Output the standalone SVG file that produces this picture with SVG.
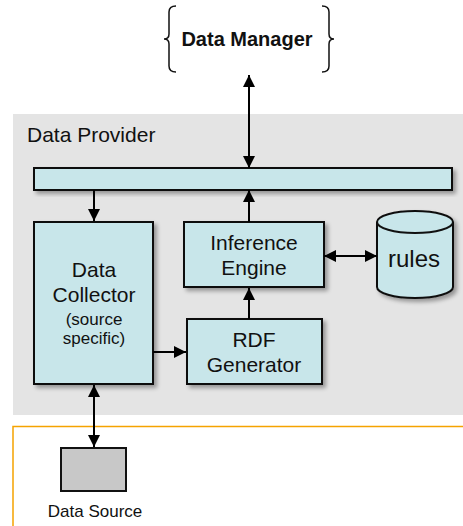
<svg xmlns="http://www.w3.org/2000/svg" width="463" height="526" viewBox="0 0 463 526">
  <style>
    .box { fill: #c8e6ea; stroke: #111; stroke-width: 2; }
    .lbl { font-family: "Liberation Sans", Arial, sans-serif; fill: #111; text-anchor: middle; }
    .wire { stroke: #000; stroke-width: 2; fill: none; }
  </style>
  <defs>
    <marker id="head" viewBox="0 0 12 12" refX="12" refY="6" markerWidth="12" markerHeight="12" markerUnits="userSpaceOnUse" orient="auto-start-reverse">
      <path d="M0,0 L12,6 L0,12 Z" fill="#000"/>
    </marker>
    <filter id="shadow" x="-20%" y="-20%" width="150%" height="150%">
      <feGaussianBlur in="SourceAlpha" stdDeviation="2"/>
      <feOffset dx="3" dy="3" result="b"/>
      <feComponentTransfer><feFuncA type="linear" slope="0.35"/></feComponentTransfer>
      <feMerge><feMergeNode/><feMergeNode in="SourceGraphic"/></feMerge>
    </filter>
  </defs>

  <rect width="463" height="526" fill="#fff"/>

  <!-- provider panel -->
  <g id="data-provider">
    <rect x="13" y="114" width="450" height="301" fill="#e4e4e4"/>
    <text x="27" y="142" font-family="Liberation Sans, Arial, sans-serif" font-size="21" fill="#111">Data Provider</text>
  </g>

  <!-- source area outline -->
  <g id="source-area">
    <path d="M13,526 V426.5 H463" fill="none" stroke="#f5a300" stroke-width="1.5"/>
  </g>

  <g id="data-manager">
    <path d="M176,6 Q169,6 169,12 V34 Q169,39 164,39 Q169,39 169,44 V66 Q169,72 176,72" fill="none" stroke="#111" stroke-width="1.5"/>
    <path d="M322,6 Q329,6 329,12 V34 Q329,39 334,39 Q329,39 329,44 V66 Q329,72 322,72" fill="none" stroke="#111" stroke-width="1.5"/>
    <text class="lbl" x="247" y="46" font-size="20" font-weight="bold">Data Manager</text>
  </g>

  <g id="bus">
    <rect class="box" x="34" y="168" width="418" height="22" filter="url(#shadow)"/>
  </g>

  <g id="data-collector">
    <rect class="box" x="34" y="222" width="119" height="162" filter="url(#shadow)"/>
    <text class="lbl" x="94" y="277" font-size="21">Data</text>
    <text class="lbl" x="94" y="302" font-size="21">Collector</text>
    <text class="lbl" x="94" y="325" font-size="17">(source</text>
    <text class="lbl" x="94" y="344" font-size="17">specific)</text>
  </g>

  <g id="inference-engine">
    <rect class="box" x="184" y="222" width="140" height="65" filter="url(#shadow)"/>
    <text class="lbl" x="254" y="250" font-size="21">Inference</text>
    <text class="lbl" x="254" y="275" font-size="21">Engine</text>
  </g>

  <g id="rdf-generator">
    <rect class="box" x="187" y="319" width="135" height="65" filter="url(#shadow)"/>
    <text class="lbl" x="254" y="347" font-size="21">RDF</text>
    <text class="lbl" x="254" y="372" font-size="21">Generator</text>
  </g>

  <g id="rules">
    <path class="box" d="M377,222 A38,11 0 0 1 453,222 V287 A38,11 0 0 1 377,287 Z" filter="url(#shadow)"/>
    <path d="M377,222 A38,11 0 0 0 453,222" fill="none" stroke="#111" stroke-width="2"/>
    <text class="lbl" x="414" y="267" font-size="24">rules</text>
  </g>

  <g id="data-source">
    <rect x="61" y="448" width="65" height="43" fill="#c8c8c8" stroke="#111" stroke-width="2"/>
    <text class="lbl" x="95" y="517" font-size="17">Data Source</text>
  </g>

  <g id="connectors">
    <line class="wire" x1="249" y1="75" x2="249" y2="168" marker-start="url(#head)" marker-end="url(#head)"/>
    <line class="wire" x1="94" y1="190" x2="94" y2="221" marker-end="url(#head)"/>
    <line class="wire" x1="249" y1="222" x2="249" y2="190" marker-end="url(#head)"/>
    <line class="wire" x1="249" y1="319" x2="249" y2="288" marker-end="url(#head)"/>
    <line class="wire" x1="324" y1="256" x2="377" y2="256" marker-start="url(#head)" marker-end="url(#head)"/>
    <line class="wire" x1="153" y1="352" x2="186" y2="352" marker-end="url(#head)"/>
    <line class="wire" x1="94" y1="385" x2="94" y2="447" marker-start="url(#head)" marker-end="url(#head)"/>
  </g>
</svg>
